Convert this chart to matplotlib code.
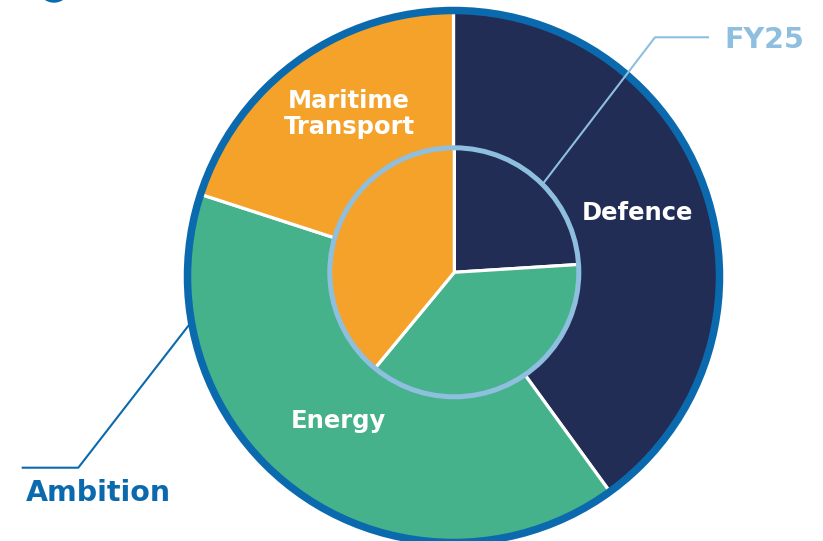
import numpy as np
import matplotlib.pyplot as plt
from matplotlib.patches import Circle, Ellipse

plt.rcParams['font.family'] = ['DejaVu Sans']

# data
segments = ["Defence", "Energy", "Maritime\nTransport"]
ambition_share = [40, 40, 20]   # outer ring
fy25_share = [24, 37, 39]       # inner circle

colors = ["#222d56", "#45b28c", "#f5a22b"]
border_blue = "#0b6aad"
light_blue = "#8fbfdf"

W, H = 823, 541
fig = plt.figure(figsize=(W / 100, H / 100), dpi=100)
ax = fig.add_axes([0, 0, 1, 1])

outer_c = (453.5, H - 276.5)
inner_c = (454.3, H - 272.3)
R_out = 266
R_in = 124.5

ax.pie(ambition_share, colors=colors, startangle=90, counterclock=False,
       radius=R_out, center=outer_c,
       wedgeprops=dict(edgecolor="white", linewidth=2.3))
ax.add_patch(Circle(outer_c, R_out, fill=False, edgecolor=border_blue, linewidth=5.4, zorder=3))

ax.pie(fy25_share, colors=colors, startangle=90, counterclock=False,
       radius=R_in, center=inner_c,
       wedgeprops=dict(edgecolor="white", linewidth=2.3, zorder=4))
ax.add_patch(Circle(inner_c, R_in, fill=False, edgecolor=light_blue, linewidth=3.6, zorder=5))

# small cropped mark at top-left
ax.add_patch(Ellipse((54, H + 12), 30, 28, color=border_blue, zorder=2))

ax.set_xlim(0, W)
ax.set_ylim(0, H)
ax.set_aspect("equal")
ax.axis("off")

# slice labels
lab_kw = dict(color="white", fontsize=17.5, fontweight="bold", ha="center", va="center",
              zorder=6, linespacing=1.15)
ax.text(349, H - 114, segments[2], **lab_kw)
ax.text(637, H - 213, segments[0], **lab_kw)
ax.text(338, H - 421, segments[1], **lab_kw)

# FY25 leader
a = np.deg2rad(45)
x0, y0 = inner_c[0] + (R_in + 1) * np.cos(a), inner_c[1] + (R_in + 1) * np.sin(a)
ax.plot([x0, 655, 708], [y0, H - 37.3, H - 37.3], color=light_blue, lw=1.5, zorder=6)
ax.text(724, H - 40, "FY25", color=light_blue, fontsize=20.5, fontweight="bold",
        ha="left", va="center", zorder=6)

# Ambition leader
a = np.deg2rad(190.4)
x0, y0 = outer_c[0] + (R_out + 3) * np.cos(a), outer_c[1] + (R_out + 3) * np.sin(a)
ax.plot([x0, 78.3, 22.7], [y0, H - 467.7, H - 467.7], color=border_blue, lw=1.5, zorder=6)
ax.text(26, H - 493, "Ambition", color=border_blue, fontsize=20.5, fontweight="bold",
        ha="left", va="center", zorder=6)

fig.savefig("out.png", dpi=100)
